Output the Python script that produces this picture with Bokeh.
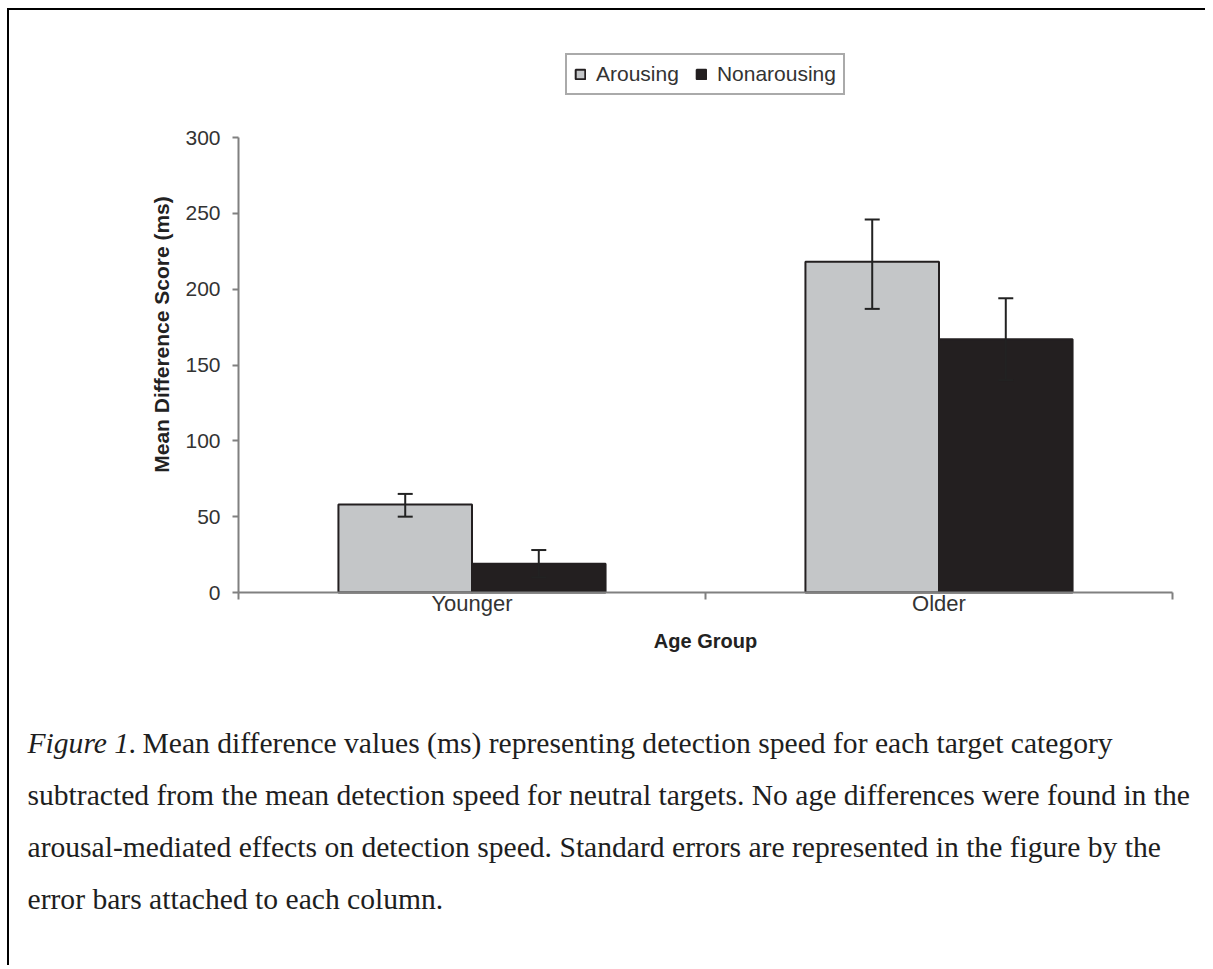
import math
from bokeh.plotting import figure
from bokeh.models import (ColumnDataSource, Range1d, FixedTicker, Whisker, TeeHead,
                          Legend, LegendItem)
from bokeh.layouts import column
from bokeh.core.properties import value
from bokeh.embed import file_html
from bokeh.resources import INLINE

# ---------------- data ----------------
categories = ["Younger", "Older"]
arousing = [58, 218]
arousing_lower = [50, 187]
arousing_upper = [65, 246]
nonarousing = [19, 167]
nonarousing_lower = [10, 140]
nonarousing_upper = [28, 194]
series_names = ["Arousing", "Nonarousing"]
y_ticks = [0, 50, 100, 150, 200, 250, 300]
x_title = "Age Group"
y_title = "Mean Difference Score (ms)"
caption_italic = "Figure 1."
caption_lines = [
    "Mean difference values (ms) representing detection speed for each target category",
    "subtracted from the mean detection speed for neutral targets. No age differences were found in the",
    "arousal-mediated effects on detection speed. Standard errors are represented in the figure by the",
    "error bars attached to each column.",
]

# ---------------- styles / layout ----------------
SANS = "Liberation Sans"
SERIF = "Liberation Serif"
AXIS_GRAY = "#808080"
TEXT_DARK = "#333333"
FILL_LIGHT = "#c4c6c8"
FILL_DARK = "#231f20"
BAR_W = 0.286
OFFSET = 0.143

W = 1196
H1 = 690
PLOT_L, PLOT_R = 229, 1163      # pixel extent of the category axis
PLOT_T, PLOT_B = 127, 582       # pixel extent of the value axis (300 .. 0)
Y_MAX = 300
n = len(categories)
ppx = (PLOT_R - PLOT_L) / n
ppy = (PLOT_B - PLOT_T) / Y_MAX

centers = [i + 0.5 for i in range(n)]
src_a = ColumnDataSource(dict(x=[c - OFFSET for c in centers], top=arousing,
                              lower=arousing_lower, upper=arousing_upper))
src_n = ColumnDataSource(dict(x=[c + OFFSET for c in centers], top=nonarousing,
                              lower=nonarousing_lower, upper=nonarousing_upper))

p = figure(width=W, height=H1, output_backend="svg", toolbar_location=None,
           x_range=Range1d(-PLOT_L / ppx, (W - PLOT_L) / ppx),
           y_range=Range1d(-(H1 - PLOT_B) / ppy, Y_MAX + PLOT_T / ppy),
           min_border=0)
p.outline_line_color = None
p.grid.visible = False
p.background_fill_color = "white"
p.border_fill_color = "white"

ra = p.vbar(x="x", top="top", width=BAR_W, source=src_a, fill_color=FILL_LIGHT,
            line_color=FILL_DARK, line_width=2)
rn = p.vbar(x="x", top="top", width=BAR_W, source=src_n, fill_color=FILL_DARK,
            line_color=FILL_DARK, line_width=2)

for s in (src_a, src_n):
    w = Whisker(source=s, base="x", upper="upper", lower="lower",
                line_color="#222222", line_width=2, level="overlay",
                upper_head=TeeHead(size=15, line_width=2, line_color="#222222"),
                lower_head=TeeHead(size=15, line_width=2, line_color="#222222"))
    p.add_layout(w)

# y axis (drawn at x = 0)
ya = p.yaxis[0]
ya.fixed_location = 0
ya.bounds = (0, Y_MAX)
ya.ticker = FixedTicker(ticks=y_ticks, minor_ticks=[])
ya.axis_line_color = AXIS_GRAY
ya.axis_line_width = 2
ya.major_tick_line_color = AXIS_GRAY
ya.major_tick_line_width = 2
ya.major_tick_in = 0
ya.major_tick_out = 6
ya.minor_tick_line_color = None
ya.major_label_text_font = SANS
ya.major_label_text_font_size = "21px"
ya.major_label_text_color = TEXT_DARK
ya.major_label_standoff = 12

# x axis (drawn at y = 0)
xa = p.xaxis[0]
xa.fixed_location = 0
xa.bounds = (0, n)
xa.ticker = FixedTicker(ticks=centers, minor_ticks=list(range(n + 1)))
xa.major_label_overrides = {c: name for c, name in zip(centers, categories)}
xa.axis_line_color = AXIS_GRAY
xa.axis_line_width = 2
xa.major_tick_line_color = None
xa.major_tick_in = 0
xa.major_tick_out = 0
xa.minor_tick_line_color = AXIS_GRAY
xa.minor_tick_line_width = 2
xa.minor_tick_in = 0
xa.minor_tick_out = 7
xa.major_label_text_font = SANS
xa.major_label_text_font_size = "22px"
xa.major_label_text_color = TEXT_DARK
xa.major_label_standoff = -9
xa.axis_label = x_title
xa.axis_label_text_font = SANS
xa.axis_label_text_font_size = "20px"
xa.axis_label_text_font_style = "bold"
xa.axis_label_text_color = "#222222"
xa.axis_label_standoff = 11

# y axis title, a little above the axis centre as in the reference
p.text(x=[(161 - 9 - PLOT_L) / ppx], y=[(PLOT_B - (334 - 10)) / ppy], text=[y_title],
       angle=math.pi / 2, text_align="center", text_baseline="middle",
       text_font=value(SANS), text_font_size="21px", text_font_style="bold",
       text_color="#222222")

legend = Legend(items=[LegendItem(label=series_names[0], renderers=[ra]),
                       LegendItem(label=series_names[1], renderers=[rn])],
                location=(556, 605), orientation="horizontal", margin=0,
                padding=7, spacing=16, label_standoff=10,
                glyph_width=12, glyph_height=12, label_height=24,
                label_text_font=SANS, label_text_font_size="21px",
                label_text_color=TEXT_DARK,
                border_line_color="#555555", border_line_width=2,
                background_fill_color="white", background_fill_alpha=1.0)
p.add_layout(legend, "center")

# ---------------- caption ----------------
H2 = 265
cap = figure(width=W, height=H2, output_backend="svg", toolbar_location=None,
             x_range=Range1d(0, W), y_range=Range1d(H2, 0),
             min_border=0)
cap.axis.visible = False
cap.grid.visible = False
cap.outline_line_color = None
cap.border_fill_color = "white"
cap.background_fill_color = "white"

x0 = 18
first_rest_x = x0 + 115
baselines = [42 + 52 * i for i in range(len(caption_lines))]
cap.text(x=[x0], y=[baselines[0]], text=[caption_italic], text_font=value(SERIF),
         text_font_size="29.6px", text_font_style="italic", text_color="#1e1e1e",
         text_baseline="alphabetic", text_align="left")
xs = [first_rest_x] + [x0] * (len(caption_lines) - 1)
cap.text(x=xs, y=baselines, text=caption_lines, text_font=value(SERIF),
         text_font_size="29.6px", text_color="#1e1e1e",
         text_baseline="alphabetic", text_align="left")

root1 = column(p, spacing=0,
               styles={"margin-left": "7px", "margin-top": "8px",
                       "border-left": "2px solid #000", "border-top": "2px solid #000"})
root2 = column(cap, spacing=0,
               styles={"margin-left": "7px", "border-left": "2px solid #000"})

open("out.html", "w").write(file_html([root1, root2], INLINE))
